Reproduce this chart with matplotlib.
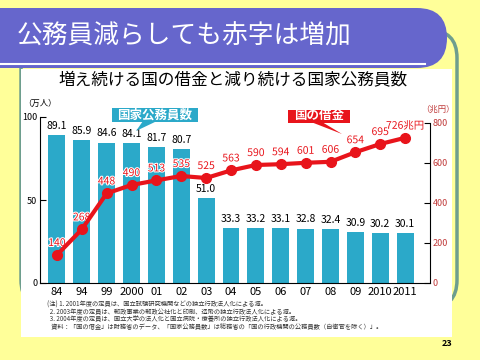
import matplotlib
matplotlib.use("Agg")
import matplotlib.pyplot as plt
import matplotlib.patheffects as pe
from matplotlib.patches import FancyBboxPatch, Rectangle, Polygon

plt.rcParams['font.family'] = ['Noto Sans CJK JP', 'DejaVu Sans']

years = ['84', '94', '99', '2000', '01', '02', '03', '04', '05', '06', '07', '08', '09', '2010', '2011']
staff = [89.1, 85.9, 84.6, 84.1, 81.7, 80.7, 51.0, 33.3, 33.2, 33.1, 32.8, 32.4, 30.9, 30.2, 30.1]
debt = [140, 268, 448, 490, 513, 535, 525, 563, 590, 594, 601, 606, 654, 695, 726]
left_ticks = [0, 50, 100]
right_ticks = [0, 200, 400, 600, 800]

slide_title = '公務員減らしても赤字は増加'
chart_title = '増え続ける国の借金と減り続ける国家公務員数'
notes = [
    '(注) 1. 2001年度の定員は、国立試験研究機関などの独立行政法人化による減。',
    '  2. 2003年度の定員は、郵政事業の郵政公社化と印刷、造幣の独立行政法人化による減。',
    '  3. 2004年度の定員は、国立大学の法人化と国立病院・療養所の独立行政法人化による減。',
    '   資料：「国の借金」は財務省のデータ、「国家公務員数」は総務省の「国の行政機関の公務員数（自衛官を除く）」。',
]

BAR = '#2BA9C9'
RED = '#E8141B'
YELLOW = '#FFFF99'
PURPLE = '#6666CC'

W, H = 480, 360
fig = plt.figure(figsize=(4.8, 3.6), dpi=100, facecolor=YELLOW)

# background layer (pixel coordinates)
bg = fig.add_axes([0, 0, 1, 1], zorder=0)
bg.set_xlim(0, W); bg.set_ylim(H, 0); bg.axis('off')
bg.add_patch(FancyBboxPatch((21, 30), 436, 278, boxstyle='round,pad=0,rounding_size=28',
                            fc='none', ec='#6E9E8E', lw=2.5))
bg.add_patch(Rectangle((21, 69), 431, 268, fc='white', ec='none'))
bg.add_patch(FancyBboxPatch((-60, 8), 507, 60, boxstyle='round,pad=0,rounding_size=30',
                            fc=PURPLE, ec='none'))
bg.plot([0, 425], [63.5, 63.5], color='white', lw=1.5)
bg.text(17, 37, slide_title, color='white', fontsize=18.5, va='center', ha='left')
bg.text(233, 80, chart_title, color='black', fontsize=12, va='center', ha='center')
for i, t in enumerate(notes):
    bg.text(47, 305 + i * 7, t, fontsize=4.5, color='#333333', va='center', ha='left')
bg.text(447, 344, '23', fontsize=6.5, fontweight='bold', ha='center', va='center')

# chart axes
x = list(range(len(years)))
ax = fig.add_axes([40 / W, (H - 283) / H, 390 / W, 166 / H], zorder=2)
ax.patch.set_alpha(0)
ax.bar(x, staff, width=0.68, color=BAR, zorder=2)
ax.set_xlim(-0.68, 15.0)
ax.set_ylim(0, 100)
ax.set_yticks(left_ticks)
ax.tick_params(axis='y', direction='in', length=4, labelsize=6.5, pad=2)
ax.set_xticks(x)
ax.set_xticklabels(years)
ax.tick_params(axis='x', length=0, labelsize=8, pad=3)
for s in ['top', 'right']:
    ax.spines[s].set_visible(False)
ax.spines['left'].set_bounds(0, 100)
for xi, v in zip(x, staff):
    ax.text(xi, v + 2.5, f'{v:.1f}', ha='center', va='bottom', fontsize=7.5)

ax2 = ax.twinx()
ax2.set_zorder(3)
ax2.set_ylim(0, 830)
ax2.plot(x, debt, color=RED, lw=3, marker='o', ms=7, zorder=4)
ax2.set_yticks(right_ticks)
ax2.tick_params(axis='y', direction='in', length=4, labelsize=6.5, pad=2, labelcolor='#C03A3A')
for s in ['top', 'left', 'bottom']:
    ax2.spines[s].set_visible(False)
ax2.spines['right'].set_bounds(0, 800)
halo = [pe.withStroke(linewidth=1.5, foreground='white')]
for i, (xi, v) in enumerate(zip(x, debt)):
    lab = f'{v}兆円' if i == len(debt) - 1 else f'{v}'
    ax2.text(xi, v + 35, lab, ha='center', va='bottom', fontsize=7.5, color=RED, path_effects=halo)

# overlay (pixel coordinates) for axis units and callouts
ov = fig.add_axes([0, 0, 1, 1], zorder=5)
ov.patch.set_alpha(0)
ov.set_xlim(0, W); ov.set_ylim(H, 0); ov.axis('off')
ov.text(23, 103, '（万人）', fontsize=6, ha='left', va='center')
ov.text(438, 109, '（兆円）', fontsize=6, ha='center', va='center', color='#C03A3A')
ov.add_patch(Rectangle((112, 108), 86, 13.5, fc=BAR, ec='none'))
ov.add_patch(Polygon([(143, 121), (157, 121), (136, 131)], closed=True, fc=BAR, ec='none'))
ov.text(155, 114.8, '国家公務員数', color='white', fontsize=9, fontweight='bold', ha='center', va='center')
ov.add_patch(Rectangle((288, 109.5), 62, 13, fc=RED, ec='none'))
ov.add_patch(Polygon([(311, 122), (322, 122), (342, 134)], closed=True, fc=RED, ec='none'))
ov.text(319, 116, '国の借金', color='white', fontsize=9, fontweight='bold', ha='center', va='center')

fig.savefig('out.png', dpi=100, facecolor=YELLOW)
